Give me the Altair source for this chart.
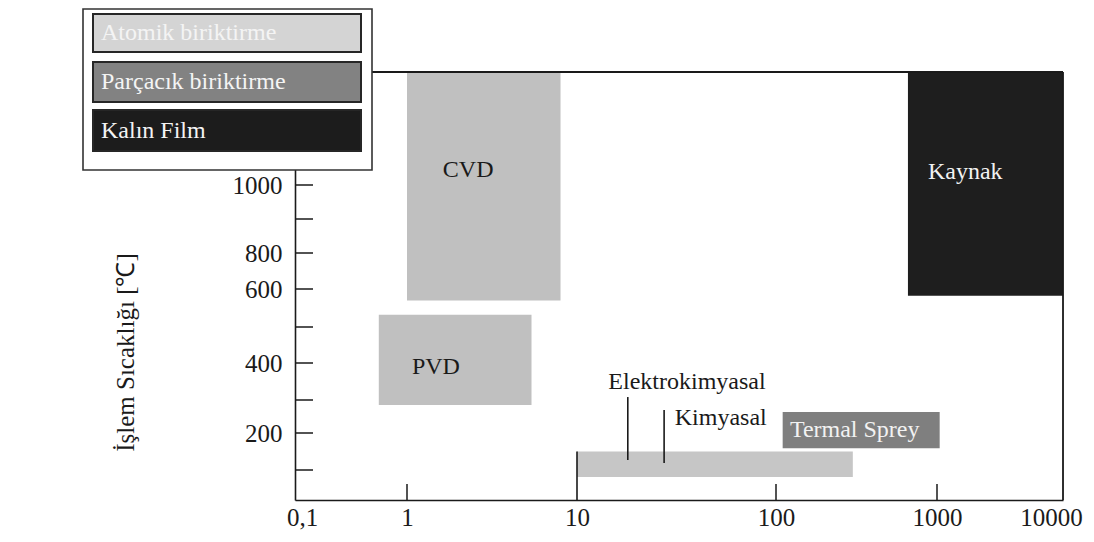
import altair as alt
import pandas as pd

# ---------------- data ----------------
# x axis: film thickness (log, hand-drawn spacing)
x_tick_values = [0.1, 1, 10, 100, 1000, 10000]
x_tick_labels = ["0,1", "1", "10", "100", "1000", "10000"]
x_inner_ticks = [1, 100, 1000]

# y axis: process temperature (hand-drawn, broken spacing)
y_breaks = [0, 100, 200, 300, 400, 500, 600, 800, 900, 1000, 1300]
y_tick_values = [100, 200, 300, 400, 500, 600, 800, 900, 1000]
y_label_values = [200, 400, 600, 800, 1000]
y_tick_labels = ["200", "400", "600", "800", "1000"]

# process regions
region_names = ["CVD", "PVD", "Elektrokimyasal/Kimyasal", "Termal Sprey", "Kaynak"]
region_x_start = [1, 0.56, 10, 110, 660]
region_x_end = [8, 5.4, 300, 1050, 10000]
region_t_low = [570, 285, 77, 159, 582]
region_t_high = [1300, 532, 150, 264, 1300]
region_colors = ["#c0c0c0", "#c0c0c0", "#c6c6c6", "#7f7f7f", "#1e1e1e"]

# annotations
label_text = ["CVD", "PVD", "Elektrokimyasal", "Kimyasal", "Termal Sprey", "Kaynak"]
label_x = [2.29, 1.48, 35.7, 31, 122, 879]
label_y = [1040, 390, 350, 245, 209, 1035]
label_align = ["center", "center", "center", "left", "left", "left"]
label_color = ["#1a1a1a", "#1a1a1a", "#1a1a1a", "#1a1a1a", "#f2f2f2", "#f2f2f2"]

# leader lines
leader_x = [18, 27.4, 10]
leader_t_low = [127, 119, 0]
leader_t_high = [308, 270, 150]

# legend
legend_names = ["Atomik biriktirme", "Parçacık biriktirme", "Kalın Film"]
legend_colors = ["#d4d4d4", "#828282", "#1c1c1c"]

# ---------------- layout / style ----------------
W, H = 768, 428
x_range_px = [0, 112, 282, 481, 642, 768]
y_range_px = [428, 398, 361, 328, 291, 255, 217, 181, 147, 113, 0]
FONT = "Liberation Serif"
INK = "#1a1a1a"

x_scale = alt.Scale(type="log", domain=x_tick_values, range=x_range_px, nice=False)
y_scale = alt.Scale(type="linear", domain=y_breaks, range=y_range_px, nice=False, zero=False)


def label_expr(values, labels):
    expr = "''"
    for v, l in reversed(list(zip(values, labels))):
        expr = f"datum.value == {v} ? '{l}' : ({expr})"
    return expr


x_axis = alt.Axis(
    values=x_tick_values, labelExpr=label_expr(x_tick_values, x_tick_labels),
    title=None, ticks=False, grid=False, labelFont=FONT, labelFontSize=25,
    labelColor=INK, labelPadding=5, domainColor=INK, domainWidth=1.6,
    labelFlush=False, labelOverlap=False,
    labelOffset=alt.ExprRef(
        expr=f"datum.value == {x_tick_values[-1]} ? -12 : (datum.value == {x_tick_values[0]} ? 7 : 0)"
    ),
)
y_axis = alt.Axis(
    values=y_label_values, labelExpr=label_expr(y_label_values, y_tick_labels),
    title="İşlem Sıcaklığı [℃]", titleAngle=270, titleX=-170, titleY=280,
    titleAlign="center", titleBaseline="middle", titleFont=FONT, titleFontSize=25,
    titleFontWeight="normal", titleColor=INK,
    ticks=False, grid=False, labelFont=FONT, labelFontSize=25, labelColor=INK,
    labelPadding=13, domainColor=INK, domainWidth=1.6, labelOverlap=False,
)

regions = pd.DataFrame({
    "name": region_names, "x0": region_x_start, "x1": region_x_end,
    "t0": region_t_low, "t1": region_t_high, "color": region_colors,
})
labels = pd.DataFrame({
    "text": label_text, "x": label_x, "y": label_y,
    "align": label_align, "color": label_color,
})
leaders = pd.DataFrame({"x": leader_x, "t0": leader_t_low, "t1": leader_t_high})

rects = alt.Chart(regions).mark_rect().encode(
    x=alt.X("x0:Q", scale=x_scale, axis=x_axis),
    x2="x1:Q",
    y=alt.Y("t0:Q", scale=y_scale, axis=y_axis),
    y2="t1:Q",
    color=alt.Color("color:N", scale=None),
)

leader_lines = alt.Chart(leaders).mark_rule(color=INK, strokeWidth=1.6).encode(
    x=alt.X("x:Q", scale=x_scale, axis=x_axis),
    y=alt.Y("t0:Q", scale=y_scale, axis=y_axis),
    y2="t1:Q",
)

# frame: top and right edges of the plot box
frame_top = alt.Chart(pd.DataFrame({
    "x0": [x_tick_values[0]], "x1": [x_tick_values[-1]], "t": [y_breaks[-1]]
})).mark_rule(color=INK, strokeWidth=1.8).encode(
    x=alt.X("x0:Q", scale=x_scale, axis=x_axis), x2="x1:Q",
    y=alt.Y("t:Q", scale=y_scale, axis=y_axis),
)
frame_right = alt.Chart(pd.DataFrame({
    "x": [x_tick_values[-1]], "t0": [y_breaks[0]], "t1": [y_breaks[-1]]
})).mark_rule(color=INK, strokeWidth=1.8).encode(
    x=alt.X("x:Q", scale=x_scale, axis=x_axis),
    y=alt.Y("t0:Q", scale=y_scale, axis=y_axis), y2="t1:Q",
)

y_ticks = alt.Chart(pd.DataFrame({"v": y_tick_values})).mark_rule(color=INK, strokeWidth=1.5).encode(
    y=alt.Y("v:Q", scale=y_scale, axis=y_axis),
    x=alt.value(0), x2=alt.value(18),
)
x_ticks = alt.Chart(pd.DataFrame({"v": x_inner_ticks})).mark_rule(color=INK, strokeWidth=1.5).encode(
    x=alt.X("v:Q", scale=x_scale, axis=x_axis),
    y=alt.value(H - 16), y2=alt.value(H),
)

text_layers = []
for al in ["center", "left"]:
    text_layers.append(
        alt.Chart(labels[labels["align"] == al]).mark_text(
            align=al, baseline="middle", font=FONT, fontSize=24
        ).encode(
            x=alt.X("x:Q", scale=x_scale, axis=x_axis),
            y=alt.Y("y:Q", scale=y_scale, axis=y_axis),
            text="text:N",
            color=alt.Color("color:N", scale=None),
        )
    )

# legend box (drawn manually: wide swatches with text inside)
legend_layers = [
    alt.Chart(pd.DataFrame({"g": ["box"]})).mark_rect(
        fill="white", stroke="#333333", strokeWidth=1.6
    ).encode(x=alt.value(-212), x2=alt.value(77), y=alt.value(-63), y2=alt.value(98))
]
row_top = [-58, -10, 38]
row_bot = [-20, 30, 79]
for i, name in enumerate(legend_names):
    d = pd.DataFrame({"g": [name]})
    legend_layers.append(
        alt.Chart(d).mark_rect(fill=legend_colors[i], stroke="#262626", strokeWidth=2).encode(
            x=alt.value(-202), x2=alt.value(66),
            y=alt.value(row_top[i]), y2=alt.value(row_bot[i]),
        )
    )
    legend_layers.append(
        alt.Chart(d).mark_text(
            align="left", baseline="middle", font=FONT, fontSize=24, color="#f4f4f4"
        ).encode(
            x=alt.value(-194), y=alt.value((row_top[i] + row_bot[i]) / 2), text="g:N"
        )
    )

chart = alt.layer(
    rects, leader_lines, frame_top, frame_right, y_ticks, x_ticks,
    *text_layers, *legend_layers
).properties(
    width=W, height=H,
    autosize=alt.AutoSizeParams(type="none"),
    padding={"left": 287, "top": 64, "right": 22, "bottom": 30},
).configure_view(
    strokeWidth=0
).configure(background="white")

chart.save("out.html", embed_options={"renderer": "svg", "actions": False})
